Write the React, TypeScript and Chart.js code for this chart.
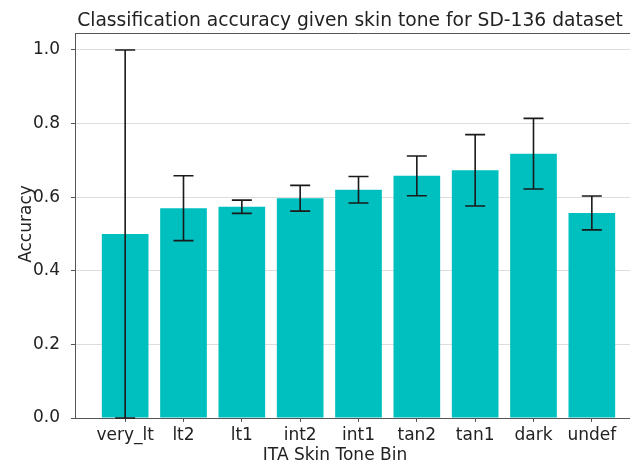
import React, { useEffect, useRef } from "react";
import { Chart, registerables } from "chart.js";

Chart.register(...registerables);

const categories = ["very_lt", "lt2", "lt1", "int2", "int1", "tan2", "tan1", "dark", "undef"];
const accuracy = [0.5, 0.57, 0.574, 0.597, 0.62, 0.658, 0.673, 0.718, 0.557];
const errors = [0.5, 0.088, 0.018, 0.035, 0.036, 0.054, 0.097, 0.096, 0.046];
const yTicks = [0, 0.2, 0.4, 0.6, 0.8, 1.0];

const titleText = "Classification accuracy given skin tone for SD-136 dataset";
const xTitle = "ITA Skin Tone Bin";
const yTitle = "Accuracy";

const FONT = "'DejaVu Sans', sans-serif";
const AXIS_COLOR = "#555555";

const overlay = {
  id: "overlay",
  afterDatasetsDraw(chart: any) {
    const ctx = chart.ctx;
    const xs = chart.scales.x;
    const ys = chart.scales.y;
    ctx.save();
    ctx.strokeStyle = "#1a1a1a";
    ctx.lineWidth = 1.6;
    const cap = 10;
    accuracy.forEach((v, i) => {
      const x = xs.getPixelForValue(i);
      const yt = ys.getPixelForValue(v + errors[i]);
      const yb = ys.getPixelForValue(v - errors[i]);
      ctx.beginPath();
      ctx.moveTo(x, yt);
      ctx.lineTo(x, yb);
      ctx.moveTo(x - cap, yt);
      ctx.lineTo(x + cap, yt);
      ctx.moveTo(x - cap, yb);
      ctx.lineTo(x + cap, yb);
      ctx.stroke();
    });
    ctx.restore();
  },
  afterDraw(chart: any) {
    const ctx = chart.ctx;
    const a = chart.chartArea;
    ctx.save();
    ctx.strokeStyle = AXIS_COLOR;
    ctx.lineWidth = 1;
    ctx.beginPath();
    ctx.moveTo(a.left, a.top + 0.5);
    ctx.lineTo(a.right, a.top + 0.5);
    ctx.stroke();
    ctx.fillStyle = "#222222";
    ctx.textAlign = "center";
    ctx.textBaseline = "alphabetic";
    ctx.font = `18.7px ${FONT}`;
    ctx.fillText(titleText, 350, 26);
    ctx.font = `17px ${FONT}`;
    ctx.textBaseline = "middle";
    ctx.fillText(xTitle, 335, 456);
    ctx.translate(27, 224);
    ctx.rotate(-Math.PI / 2);
    ctx.fillText(yTitle, 0, 0);
    ctx.restore();
  },
};

export default function App() {
  const ref = useRef<HTMLCanvasElement>(null);
  useEffect(() => {
    if (!ref.current) return;
    const chart = new Chart(ref.current, {
      type: "bar",
      data: {
        datasets: [
          {
            data: accuracy.map((v, i) => ({ x: i, y: v })),
            backgroundColor: "#00BFBF",
            borderWidth: 0,
            barPercentage: 0.8,
            categoryPercentage: 1.0,
          },
        ],
      },
      options: {
        responsive: false,
        animation: false,
        devicePixelRatio: 1,
        layout: { padding: { top: 33, right: 0, left: 0, bottom: 0 } },
        plugins: { legend: { display: false }, tooltip: { enabled: false }, title: { display: false } },
        scales: {
          x: {
            type: "linear",
            offset: false,
            min: -0.86,
            max: 8.86,
            afterBuildTicks: (s: any) => {
              s.ticks = categories.map((_, i) => ({ value: i }));
            },
            afterFit: (s: any) => {
              s.height = 49;
            },
            ticks: {
              callback: (v: any) => categories[Math.round(Number(v))] ?? "",
              font: { family: FONT, size: 17 },
              color: "#222222",
              padding: 3,
              maxRotation: 0,
              autoSkip: false,
            },
            grid: { offset: false, drawOnChartArea: false, drawTicks: true, tickLength: 4, tickColor: AXIS_COLOR },
            border: { color: AXIS_COLOR, width: 1 },
          },
          y: {
            type: "linear",
            min: 0,
            max: 1.046,
            afterBuildTicks: (s: any) => {
              s.ticks = yTicks.map((v) => ({ value: v }));
            },
            afterFit: (s: any) => {
              s.width = 75;
            },
            ticks: {
              callback: (v: any) => Number(v).toFixed(1),
              font: { family: FONT, size: 17 },
              color: "#222222",
              padding: 11,
            },
            grid: { color: "#dddddd", lineWidth: 1, tickLength: 4, tickColor: AXIS_COLOR },
            border: { color: AXIS_COLOR, width: 1 },
          },
        },
      },
      plugins: [overlay],
    });
    return () => chart.destroy();
  }, []);
  return (
    <div style={{ position: "fixed", left: 0, top: 0, width: 630, height: 467, overflow: "hidden", background: "#fff" }}>
      <canvas ref={ref} width={642} height={467} style={{ display: "block" }} />
    </div>
  );
}
